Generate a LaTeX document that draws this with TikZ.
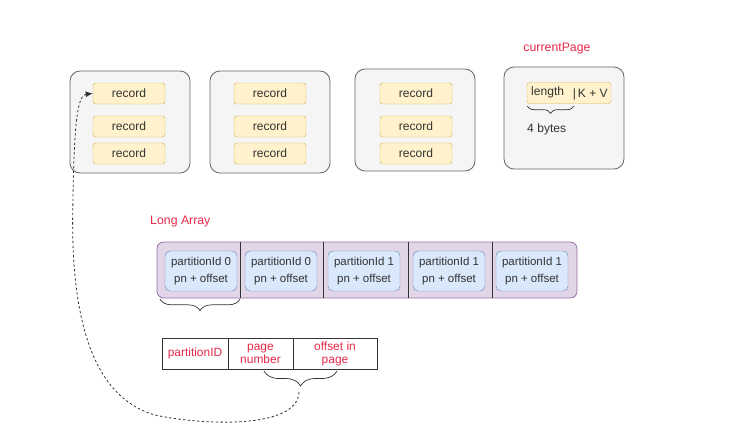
\documentclass[tikz,border=0pt]{standalone}
\usepackage{fontspec}
\setmainfont{Liberation Sans}
\usetikzlibrary{arrows.meta, decorations.pathreplacing}

\definecolor{pagefill}{HTML}{F5F5F5}
\definecolor{pageline}{HTML}{666666}
\definecolor{recfill}{HTML}{FFF2CC}
\definecolor{recline}{HTML}{D6B656}
\definecolor{arrfill}{HTML}{E1D5E7}
\definecolor{arrline}{HTML}{9673A6}
\definecolor{slotfill}{HTML}{DAE8FC}
\definecolor{slotline}{HTML}{6C8EBF}
\definecolor{labelred}{RGB}{232,40,72}
\definecolor{inktext}{HTML}{333333}

\tikzset{
  pagebox/.style={draw=pageline, fill=pagefill, rounded corners=0.3cm, line width=0.7pt,
    minimum width=3.6cm, minimum height=3.06cm},
  recbox/.style={draw=recline, fill=recfill, rounded corners=0.08cm, inner sep=0pt,
    minimum width=2.16cm, minimum height=0.63cm, text=inktext, font=\fontsize{10.3}{12}\selectfont},
  slotbox/.style={draw=slotline, fill=slotfill, rounded corners=0.15cm, inner sep=0pt,
    minimum width=2.16cm, minimum height=1.2cm, text=inktext, align=center,
    font=\fontsize{9.8}{14}\selectfont},
  fieldbox/.style={draw=inktext, fill=white, inner sep=0pt, minimum height=0.93cm,
    text=labelred, align=center, font=\fontsize{10.2}{11}\selectfont},
  redlabel/.style={text=labelred, font=\fontsize{10.5}{12}\selectfont},
  bracket/.style={draw=inktext, line width=0.6pt, decorate, decoration={brace, mirror, amplitude=#1}}
}

\begin{document}
\begin{tikzpicture}[x=0.03cm, y=-0.03cm]
  \useasboundingbox (0,0) rectangle (729,439);

  % pages
  \node[pagebox] (page1) at (130,122) {};
  \node[pagebox] (page2) at (270,122) {};
  \node[pagebox] (page3) at (415,120) {};
  \node[pagebox] (page4) at (564,118) {};
  \foreach \p/\x in {1/129, 2/270, 3/416} {
    \node[recbox] (rec\p1) at (\x,93.5) {record};
    \node[recbox] (rec\p2) at (\x,126.5) {record};
    \node[recbox] (rec\p3) at (\x,153.5) {record};
  }

  % current page
  \node[redlabel] (curlabel) at (557,49) {currentPage};
  \node[recbox, minimum width=2.52cm] (kvrec) at (569,93) {};
  \node[text=inktext, font=\fontsize{10.3}{12}\selectfont, anchor=west, inner sep=0pt] (lenfield) at (531,92) {length};
  \node[text=inktext, font=\fontsize{10.3}{12}\selectfont, anchor=east, inner sep=0pt] (kvfield) at (608,94) {\textbar\,K + V};
  \draw[bracket=0.22cm] (527,106) -- (574,106);
  \node[text=inktext, font=\fontsize{10.3}{12}\selectfont, anchor=west, inner sep=0pt] (lenbytes) at (527,129) {4 bytes};

  % long array
  \node[redlabel, anchor=west, inner sep=0pt] (arrlabel) at (150,222) {Long Array};
  \node[draw=arrline, fill=arrfill, rounded corners=0.2cm, line width=0.7pt,
    minimum width=12.6cm, minimum height=1.68cm] (longarr) at (367,270) {};
  \foreach \x in {240, 323, 408, 492}
    \draw[inktext, line width=0.7pt] (\x,242) -- (\x,298);
  \foreach \i/\x/\id in {1/201/0, 2/281/0, 3/364/1, 4/449/1, 5/532/1}
    \node[slotbox] (slot\i) at (\x,271) {partitionId \id\\pn + offset};
  \draw[bracket=0.35cm] (160,299) -- (240,299);

  % packed pointer
  \node[fieldbox, minimum width=1.98cm] (pidfield) at (195,353.5) {partitionID};
  \node[fieldbox, minimum width=1.95cm] (pnfield) at (260.5,353.5) {page\\number};
  \node[fieldbox, minimum width=2.52cm] (offfield) at (335,353.5) {offset in\\page};
  \draw[bracket=0.45cm] (264,371) -- (337,371);
  \coordinate (pgtip) at (299,392);

  \draw[inktext, line width=0.7pt, dash pattern=on 2pt off 2pt, -{Latex[length=6pt, width=5pt]}]
    (pgtip) .. controls (298,430) and (200,425) .. (155,415)
    .. controls (85,395) and (70,300) .. (73,200)
    .. controls (74,120) and (78,95) .. (rec11.west);
\end{tikzpicture}
\end{document}
